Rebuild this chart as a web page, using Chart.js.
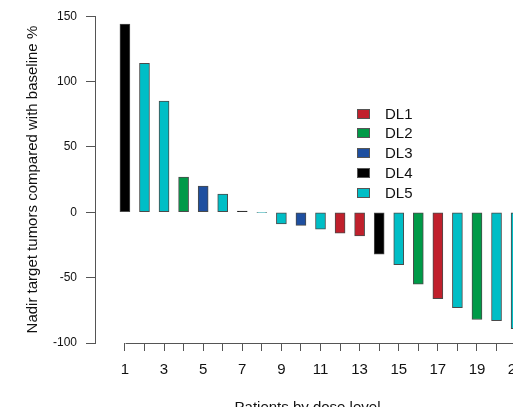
<!DOCTYPE html>
<html>
<head>
<meta charset="utf-8">
<script src="https://cdn.jsdelivr.net/npm/chart.js@4"></script>
<style>
  html, body { margin: 0; padding: 0; background: #fff; overflow: hidden; }
  #wrap { position: relative; width: 513px; height: 407px; overflow: hidden; }
  canvas { position: absolute; left: 0; top: 0; }
  .leg-row { position: absolute; left: 357px; height: 20px; font: 15px "Liberation Sans", Arial, sans-serif; color: #111; }
  .leg-box { position: absolute; left: 0; top: 5px; width: 11px; height: 8px; border: 1px solid #555; }
  .leg-text { position: absolute; left: 28px; top: 0; line-height: 20px; white-space: nowrap; }
</style>
</head>
<body>
<div id="wrap">
  <canvas id="waterfall" width="540" height="430"></canvas>
  <div id="legend"></div>
</div>
<script>
const patients = [1, 2, 3, 4, 5, 6, 7, 8, 9, 10, 11, 12, 13, 14, 15, 16, 17, 18, 19, 20, 21];
const nadirChange = [144, 114, 85, 27, 20, 14, 1, -0.3, -9, -10, -13, -16, -18, -32, -40, -55, -66, -73, -82, -83, -89];
const doseLevel = [4, 5, 5, 2, 3, 5, 4, 5, 5, 3, 5, 1, 1, 4, 5, 2, 1, 5, 2, 5, 5];
const doseNames = ['DL1', 'DL2', 'DL3', 'DL4', 'DL5'];
const doseColors = ['#C0202C', '#009A48', '#1E4FA0', '#000000', '#00BEC6'];
const yTicks = [-100, -50, 0, 50, 100, 150];

// legend, drawn as plain html over the plot
const legend = document.getElementById('legend');
doseNames.forEach((name, i) => {
    const row = document.createElement('div');
    row.className = 'leg-row';
    row.style.top = (103.5 + i * 19.75) + 'px';
    row.innerHTML = '<div class="leg-box" style="background:' + doseColors[i] + '"></div>' +
        '<div class="leg-text">' + name + '</div>';
    legend.appendChild(row);
});

/* R style x axis: the line starts at the first patient, not at the y axis */
const xAxisLine = {
    id: 'xAxisLine',
    afterDraw(chart) {
        const x = chart.scales.x;
        const ctx = chart.ctx;
        const y = Math.round(chart.chartArea.bottom) + 0.5;
        ctx.save();
        ctx.strokeStyle = '#555';
        ctx.lineWidth = 1;
        ctx.beginPath();
        ctx.moveTo(Math.round(x.getPixelForValue(patients[0])) + 0.5, y);
        ctx.lineTo(x.right + 20, y);
        ctx.stroke();
        ctx.restore();
    }
};

const font = '"Liberation Sans", Arial, sans-serif';

new Chart(document.getElementById('waterfall'), {
    type: 'bar',
    data: {
        datasets: [{
            data: patients.map((p, i) => ({ x: p, y: nadirChange[i] })),
            backgroundColor: doseLevel.map(d => doseColors[d - 1]),
            borderColor: '#4a4a4a',
            borderWidth: 1,
            borderSkipped: false,
            barThickness: 10,
        }]
    },
    options: {
        responsive: false,
        animation: false,
        devicePixelRatio: 1,
        layout: { padding: { left: 0, right: 20, top: 14, bottom: 0 } },
        plugins: {
            legend: { display: false },
            tooltip: { enabled: false }
        },
        scales: {
            x: {
                type: 'linear',
                offset: false,
                min: -0.53,
                max: 21.2,
                afterFit: s => { s.height = 87; },
                afterBuildTicks: s => { s.ticks = patients.map(v => ({ value: v })); },
                border: { display: false },
                grid: { offset: false, drawOnChartArea: false, tickLength: 8, color: '#555' },
                ticks: {
                    autoSkip: false,
                    maxRotation: 0,
                    padding: 10,
                    color: '#111',
                    font: { family: font, size: 15 },
                    callback: v => (v % 2 === 1 ? String(v) : '')
                },
                title: {
                    display: true,
                    text: 'Patients by dose level',
                    color: '#111',
                    font: { family: font, size: 15 },
                    padding: { top: 0, bottom: 13 }
                }
            },
            y: {
                min: yTicks[0],
                max: yTicks[yTicks.length - 1],
                afterFit: s => { s.width = 95; },
                afterBuildTicks: s => { s.ticks = yTicks.map(v => ({ value: v })); },
                border: { display: true, color: '#555', width: 1 },
                grid: { drawOnChartArea: false, tickLength: 9, color: '#555' },
                ticks: {
                    padding: 9,
                    color: '#111',
                    font: { family: font, size: 12 }
                },
                title: {
                    display: true,
                    text: 'Nadir target tumors compared with baseline %',
                    color: '#111',
                    font: { family: font, size: 15 },
                    padding: { top: 24, bottom: 0 }
                }
            }
        }
    },
    plugins: [xAxisLine]
});
</script>
</body>
</html>
